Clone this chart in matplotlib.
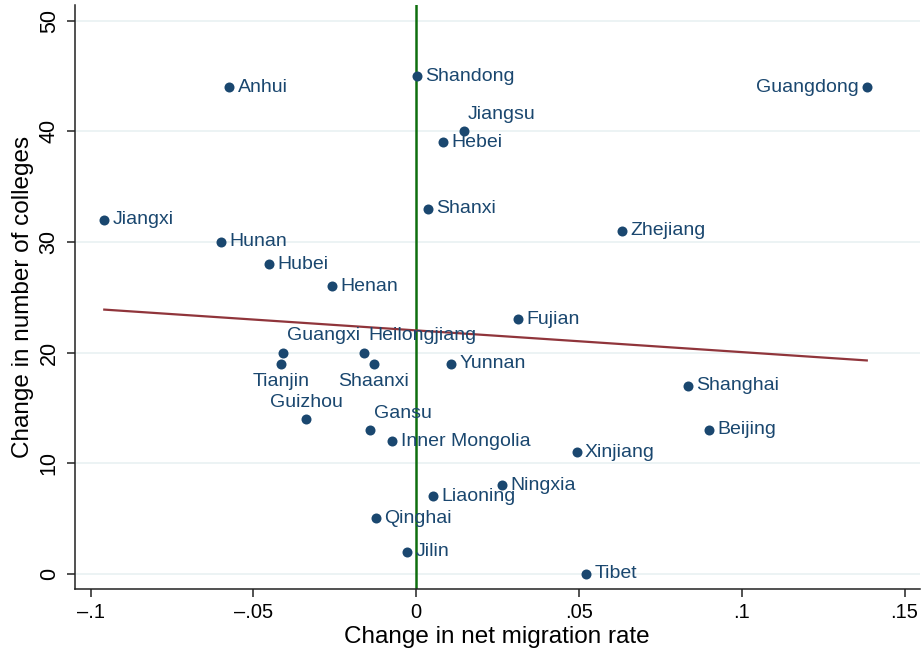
import matplotlib
matplotlib.use("Agg")
import matplotlib.pyplot as plt
import numpy as np

plt.rcParams['font.family'] = ['Liberation Sans', 'DejaVu Sans']

provinces = ['Anhui', 'Shandong', 'Guangdong', 'Jiangsu', 'Hebei', 'Shanxi',
             'Jiangxi', 'Hunan', 'Zhejiang', 'Hubei', 'Henan', 'Fujian',
             'Guangxi', 'Tianjin', 'Heilongjiang', 'Shaanxi', 'Yunnan',
             'Shanghai', 'Guizhou', 'Gansu', 'Inner Mongolia', 'Beijing',
             'Xinjiang', 'Ningxia', 'Liaoning', 'Qinghai', 'Jilin', 'Tibet']
migration = [-0.0574, 0.0002, 0.1384, 0.0146, 0.0083, 0.0036,
             -0.0958, -0.0599, 0.0632, -0.0453, -0.0258, 0.0312,
             -0.0409, -0.0415, -0.0159, -0.0131, 0.0107,
             0.0834, -0.0337, -0.0142, -0.0073, 0.0899,
             0.0493, 0.0264, 0.0053, -0.0124, -0.0027, 0.0521]
colleges = [44, 45, 44, 40, 39, 33,
            32, 30, 31, 28, 26, 23,
            20, 19, 20, 19, 19,
            17, 14, 13, 12, 13,
            11, 8, 7, 5, 2, 0]
# label position (clock) like stata mlabvposition
clock = {'Guangdong': 9, 'Jiangsu': 1, 'Guangxi': 1, 'Heilongjiang': 1,
         'Gansu': 1, 'Tianjin': 6, 'Shaanxi': 6, 'Guizhou': 12}

navy = '#1a476f'
maroon = '#90353b'

fig = plt.figure(figsize=(9.21, 6.5), dpi=100)
ax = fig.add_axes([0.0814, 0.0938, 0.917, 0.898])

for yv in [0, 10, 20, 30, 40, 50]:
    ax.axhline(yv, color='#eaf2f3', lw=1.3, zorder=0)

ax.axvline(0, color='#0f6e0f', lw=1.8, zorder=1)

x = np.array(migration)
y = np.array(colleges)
b, a = np.polyfit(x, y, 1)
xs = np.array([x.min(), x.max()])
ax.plot(xs, a + b * xs, color=maroon, lw=1.6, zorder=2)

ax.scatter(x, y, s=52, color=navy, zorder=3, linewidths=0)

for name, xv, yv in zip(provinces, migration, colleges):
    pos = clock.get(name, 3)
    if pos == 3:
        off, ha, va = (6, 0), 'left', 'center'
    elif pos == 9:
        off, ha, va = (-6, 0), 'right', 'center'
    elif pos == 1:
        off, ha, va = (3, 6), 'left', 'bottom'
    elif pos == 12:
        off, ha, va = (0, 6), 'center', 'bottom'
    else:
        off, ha, va = (0, -7), 'center', 'top'
    ax.annotate(name, (xv, yv), xytext=off, textcoords='offset points',
                ha=ha, va=va, fontsize=14, color=navy, zorder=4)

ax.set_xlim(-0.1048, 0.1546)
ax.set_ylim(-1.38, 51.4)
ax.set_xticks([-0.1, -0.05, 0, 0.05, 0.1, 0.15])
ax.set_xticklabels(['\u2013.1', '\u2013.05', '0', '.05', '.1', '.15'])
ax.set_yticks([0, 10, 20, 30, 40, 50])
ax.set_yticklabels(['0', '10', '20', '30', '40', '50'], rotation=90, va='center')
ax.tick_params(length=6, width=1.1, color='#222222')
ax.tick_params(axis='x', pad=4, labelsize=14.5)
ax.tick_params(axis='y', pad=5, labelsize=15.5)
for s in ['top', 'right']:
    ax.spines[s].set_visible(False)
for s in ['left', 'bottom']:
    ax.spines[s].set_linewidth(1.1)
    ax.spines[s].set_color('#222222')

ax.set_xlabel('Change in net migration rate', fontsize=17.5, va='center')
ax.set_ylabel('Change in number of colleges', fontsize=17.5, va='center')
ax.xaxis.set_label_coords(0.5, -0.082)
ax.yaxis.set_label_coords(-0.0616, 0.5)

fig.savefig('out.png', dpi=100)
